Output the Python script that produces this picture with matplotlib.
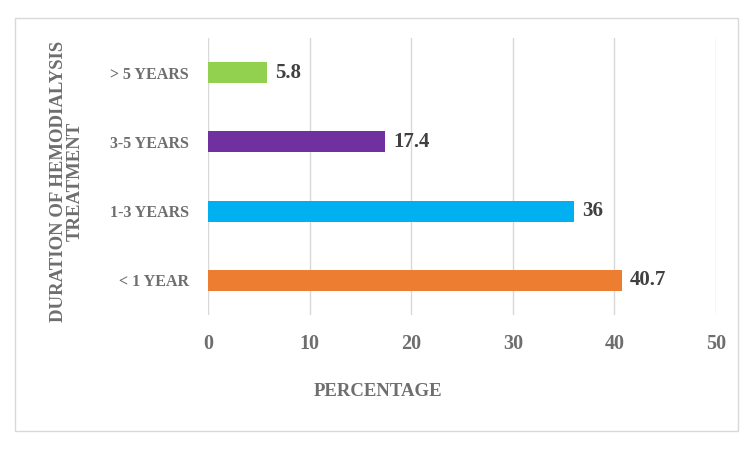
import matplotlib
matplotlib.use("Agg")
import matplotlib.pyplot as plt
from matplotlib.patches import Rectangle

categories = ["< 1 YEAR", "1-3 YEARS", "3-5 YEARS", "> 5 YEARS"]
values = [40.7, 36, 17.4, 5.8]
value_labels = ["40.7", "36", "17.4", "5.8"]
colors = ["#ED7D31", "#00B0F0", "#7030A0", "#92D050"]
xticks = [0, 10, 20, 30, 40, 50]

plt.rcParams['font.family'] = ['Liberation Serif', 'DejaVu Serif']
gray = "#6E6E6E"

fig = plt.figure(figsize=(7.5, 4.5), dpi=100)
fig.patches.append(Rectangle((15/750, 1-431/450), (738-15)/750, (431-18)/450,
                             transform=fig.transFigure, fill=False,
                             edgecolor="#D9D9D9", linewidth=1.0))
ax = fig.add_axes([208/750, 1-315/450, (716-208)/750, (315-38)/450])

y = list(range(len(categories)))
ax.barh(y, values, height=0.3, color=colors, zorder=3)
for yi, v, lab in zip(y, values, value_labels):
    ax.text(v + 0.8, yi, lab, va="center", ha="left", fontsize=15,
            fontweight="bold", color="#404040")

ax.set_xlim(0, 50)
ax.set_ylim(-0.5, 3.5)
ax.set_xticks(xticks)
ax.set_xticklabels([str(t) for t in xticks], fontsize=14.5, fontweight="bold", color=gray)
ax.set_yticks(y)
ax.set_yticklabels(categories, fontsize=11.5, fontweight="bold", color=gray)
ax.tick_params(axis="x", length=0, pad=14)
ax.tick_params(axis="y", length=0, pad=14)
ax.grid(axis="x", color="#D9D9D9", linewidth=1.0, zorder=0)
for s in ax.spines.values():
    s.set_visible(False)

fig.text(378/750, 1-392/450, "PERCENTAGE", ha="center", va="center",
         fontsize=13.5, fontweight="bold", color=gray)
fig.text(67/750, 1-181/450, "DURATION OF HEMODIALYSIS\nTREATMENT", rotation=90,
         ha="center", va="center", fontsize=13.5, fontweight="bold", color=gray,
         linespacing=0.95, multialignment="center")

fig.savefig("out.png", dpi=100)
